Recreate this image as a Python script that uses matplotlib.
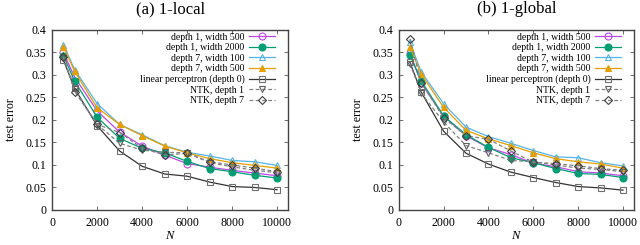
import matplotlib
matplotlib.use("Agg")
import matplotlib.pyplot as plt
from matplotlib.ticker import FuncFormatter

plt.rcParams['font.family'] = ['Liberation Serif', 'DejaVu Serif']
plt.rcParams['mathtext.fontset'] = 'custom'
plt.rcParams['mathtext.it'] = 'Liberation Serif:italic'

N = [500, 1000, 2000, 3000, 4000, 5000, 6000, 7000, 8000, 9000, 10000]

titles = ["(a) 1-local", "(b) 1-global"]
labels = ["depth 1, width 500", "depth 1, width 2000", "depth 7, width 100",
          "depth 7, width 500", "linear perceptron (depth 0)", "NTK, depth 1", "NTK, depth 7"]

# (a) 1-local
local_d1_w500 = [0.350, 0.295, 0.220, 0.173, 0.142, 0.122, 0.103, 0.095, 0.088, 0.082, 0.076]
local_d1_w2000 = [0.343, 0.286, 0.206, 0.159, 0.137, 0.127, 0.108, 0.092, 0.085, 0.077, 0.071]
local_d7_w100 = [0.367, 0.312, 0.236, 0.190, 0.167, 0.143, 0.128, 0.120, 0.110, 0.107, 0.099]
local_d7_w500 = [0.363, 0.308, 0.227, 0.190, 0.165, 0.142, 0.127, 0.114, 0.105, 0.099, 0.093]
local_linear = [0.333, 0.270, 0.187, 0.131, 0.097, 0.080, 0.075, 0.062, 0.052, 0.050, 0.045]
local_ntk1 = [0.338, 0.268, 0.190, 0.148, 0.133, 0.128, 0.127, 0.105, 0.096, 0.088, 0.083]
local_ntk7 = [0.340, 0.263, 0.190, 0.172, 0.137, 0.122, 0.126, 0.107, 0.100, 0.093, 0.085]

# (b) 1-global
global_d1_w500 = [0.348, 0.282, 0.208, 0.165, 0.138, 0.123, 0.104, 0.096, 0.085, 0.082, 0.076]
global_d1_w2000 = [0.345, 0.287, 0.209, 0.167, 0.139, 0.116, 0.105, 0.092, 0.081, 0.079, 0.072]
global_d7_w100 = [0.372, 0.307, 0.236, 0.184, 0.163, 0.148, 0.132, 0.118, 0.116, 0.105, 0.098]
global_d7_w500 = [0.362, 0.302, 0.228, 0.177, 0.158, 0.143, 0.127, 0.114, 0.107, 0.102, 0.093]
global_linear = [0.328, 0.262, 0.175, 0.126, 0.102, 0.084, 0.072, 0.061, 0.052, 0.049, 0.044]
global_ntk1 = [0.325, 0.260, 0.195, 0.143, 0.127, 0.110, 0.107, 0.100, 0.093, 0.090, 0.085]
global_ntk7 = [0.380, 0.283, 0.205, 0.165, 0.157, 0.131, 0.106, 0.103, 0.098, 0.092, 0.088]

panels = [
    [local_d1_w500, local_d1_w2000, local_d7_w100, local_d7_w500, local_linear, local_ntk1, local_ntk7],
    [global_d1_w500, global_d1_w2000, global_d7_w100, global_d7_w500, global_linear, global_ntk1, global_ntk7],
]

styles = [
    dict(color='#bb48e4', marker='o', mfc='none', ls='-'),
    dict(color='#009e73', marker='o', mfc='#009e73', ls='-'),
    dict(color='#56b4e9', marker='^', mfc='none', ls='-'),
    dict(color='#e69f00', marker='^', mfc='#e69f00', ls='-'),
    dict(color='#333333', marker='s', mfc='none', mec='#707070', ls='-'),
    dict(color='#808080', marker='v', mfc='none', mec='#606060', ls=(0, (3, 2))),
    dict(color='#808080', marker='D', mfc='none', mec='#404040', ls=(0, (3, 2)), ms=4.0),
]

fig = plt.figure(figsize=(6.4, 2.45), dpi=100)
positions = [[0.0815, 0.143, 0.369, 0.735], [0.623, 0.143, 0.368, 0.735]]

for i in range(2):
    ax = fig.add_axes(positions[i])
    for lab, vals, st in zip(labels, panels[i], styles):
        st = dict(st)
        ms = st.pop('ms', 5.0)
        ax.plot(N, vals, label=lab, lw=0.9, ms=ms, mew=0.8, **st)
    ax.set_xlim(0, 10500)
    ax.set_ylim(0, 0.4)
    ax.set_xticks([0, 2000, 4000, 6000, 8000, 10000])
    ax.set_yticks([0, 0.05, 0.1, 0.15, 0.2, 0.25, 0.3, 0.35, 0.4])
    ax.yaxis.set_major_formatter(FuncFormatter(lambda v, p: '%g' % round(v, 3)))
    ax.tick_params(direction='in', top=True, right=True, length=3, width=0.6,
                   labelsize=8.6, pad=4, color='#555555')
    ax.tick_params(axis='x', pad=5)
    for s in ax.spines.values():
        s.set_linewidth(1.0)
        s.set_color('#444444')
    ax.set_title(titles[i], fontsize=12, pad=12)
    ax.set_ylabel('test error', fontsize=8.6, labelpad=6)
    ax.set_xlabel('$N$', fontsize=9, labelpad=1)
    ax.legend(loc='upper right', bbox_to_anchor=(0.95, 0.995), fontsize=7,
              markerfirst=False, frameon=False,
              handlelength=2.6, handletextpad=0.5, labelspacing=0.15,
              borderaxespad=0.0, borderpad=0.2)

fig.savefig('out.png', dpi=100)
